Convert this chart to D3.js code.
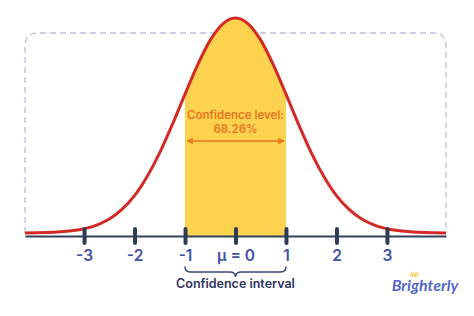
<!DOCTYPE html>
<html>
<head>
<meta charset="utf-8">
<script src="https://cdn.jsdelivr.net/npm/d3@7"></script>
<style>
  body { margin: 0; background: #fff; }
  svg { display: block; font-family: Inter, "Open Sans", sans-serif; }
</style>
</head>
<body>
<div id="chart"></div>
<script>
// curve: x in sigma units, height relative to the peak
const curveX = [-4.17, -3.75, -3.25, -2.75, -2.5, -2.25, -2, -1.75, -1.5, -1.25, -1, -0.75, -0.5, -0.25, 0,
  0.25, 0.5, 0.75, 1, 1.25, 1.5, 1.75, 2, 2.25, 2.5, 2.75, 3.25, 3.75, 4.17];
const curveY = [0.0005, 0.002, 0.01, 0.037, 0.065, 0.11, 0.174, 0.263, 0.374, 0.505, 0.646, 0.782, 0.897, 0.973, 1,
  0.973, 0.897, 0.782, 0.646, 0.505, 0.374, 0.263, 0.174, 0.11, 0.065, 0.037, 0.01, 0.002, 0.0005];
const tickValues = [-3, -2, -1, 0, 1, 2, 3];
const tickLabels = ['-3', '-2', '-1', 'μ = 0', '1', '2', '3'];
const interval = [-1, 1];
const levelLabel = ['Confidence level:', '68.26%'];
const intervalLabel = 'Confidence interval';

const width = 474;
const height = 316;
const axisY = 236;

const points = curveX.map((x, i) => ({ x, y: curveY[i] }));

const xScale = d3.scaleLinear().domain([-4.17, 4.17]).range([25, 446]);
const yScale = d3.scaleLinear().domain([0, 1]).range([233, 18]);

const svg = d3.select('#chart')
  .append('svg')
  .attr('width', width)
  .attr('height', height);

const defs = svg.append('defs');

defs.append('clipPath')
  .attr('id', 'band')
  .append('rect')
  .attr('x', xScale(interval[0]))
  .attr('width', xScale(interval[1]) - xScale(interval[0]))
  .attr('y', 0)
  .attr('height', axisY);

['start', 'end'].forEach(k => {
  defs.append('marker')
    .attr('id', 'arrow-' + k)
    .attr('viewBox', '0 0 10 10')
    .attr('refX', 9)
    .attr('refY', 5)
    .attr('markerWidth', 7)
    .attr('markerHeight', 7)
    .attr('orient', 'auto-start-reverse')
    .attr('markerUnits', 'userSpaceOnUse')
    .append('path')
    .attr('d', 'M1,1 L9,5 L1,9 Z')
    .attr('fill', '#e8761e')
    .attr('stroke', '#e8761e')
    .attr('stroke-width', 1)
    .attr('stroke-linejoin', 'round');
});

// dashed frame
svg.append('path')
  .attr('d', () => {
    const x0 = 25, x1 = 446, y0 = 33, y1 = axisY - 3, r = 13;
    return `M${x0},${y1} L${x0},${y0 + r} Q${x0},${y0} ${x0 + r},${y0} L${x1 - r},${y0} Q${x1},${y0} ${x1},${y0 + r} L${x1},${y1}`;
  })
  .attr('fill', 'none')
  .attr('stroke', '#b9c0dd')
  .attr('stroke-width', 1.3)
  .attr('stroke-dasharray', '6,4');

const area = d3.area()
  .x(d => xScale(d.x))
  .y0(axisY)
  .y1(d => yScale(d.y))
  .curve(d3.curveMonotoneX);

const line = d3.line()
  .x(d => xScale(d.x))
  .y(d => yScale(d.y))
  .curve(d3.curveMonotoneX);

svg.append('path')
  .datum(points)
  .attr('clip-path', 'url(#band)')
  .attr('fill', '#fdd24f')
  .attr('d', area);

svg.append('path')
  .datum(points)
  .attr('fill', 'none')
  .attr('stroke', '#d42a26')
  .attr('stroke-width', 3)
  .attr('d', line);

// axis
const axis = svg.append('g')
  .attr('transform', `translate(0, ${axisY})`)
  .call(d3.axisBottom(xScale)
    .tickValues(tickValues)
    .tickFormat((d, i) => tickLabels[i])
    .tickSizeOuter(0));

axis.select('.domain')
  .attr('stroke', '#34405a')
  .attr('stroke-width', 2);

axis.selectAll('.tick line')
  .attr('y1', -7)
  .attr('y2', 7)
  .attr('stroke', '#2f3b56')
  .attr('stroke-width', 4)
  .attr('stroke-linecap', 'round');

axis.selectAll('.tick text')
  .attr('y', 25)
  .attr('dy', 0)
  .attr('fill', '#4252a4')
  .attr('font-size', 15.5)
  .attr('font-weight', 600)
  .attr('font-family', 'Inter, sans-serif');

// confidence level label and arrow
const mid = xScale(0);
svg.selectAll('.level')
  .data(levelLabel)
  .enter()
  .append('text')
  .attr('x', mid)
  .attr('y', (d, i) => 119 + i * 13.5)
  .attr('text-anchor', 'middle')
  .attr('fill', '#e8761e')
  .attr('font-size', 11.5)
  .attr('font-weight', 600)
  .text(d => d);

svg.append('line')
  .attr('x1', xScale(interval[0]) + 2)
  .attr('x2', xScale(interval[1]) - 2)
  .attr('y1', 141)
  .attr('y2', 141)
  .attr('stroke', '#e8761e')
  .attr('stroke-width', 1.6)
  .attr('marker-start', 'url(#arrow-start)')
  .attr('marker-end', 'url(#arrow-end)');

// brace under the interval
const bx0 = xScale(interval[0]), bx1 = xScale(interval[1]);
const by0 = 267, by1 = 277, bh = (by0 + by1) / 2;
svg.append('path')
  .attr('d', `M${bx0},${by0} Q${bx0},${bh} ${bx0 + 6},${bh} L${mid - 6},${bh} Q${mid},${bh} ${mid},${by1}` +
    ` Q${mid},${bh} ${mid + 6},${bh} L${bx1 - 6},${bh} Q${bx1},${bh} ${bx1},${by0}`)
  .attr('fill', 'none')
  .attr('stroke', '#3a4785')
  .attr('stroke-width', 1.5)
  .attr('stroke-linecap', 'round');

svg.append('text')
  .attr('x', mid)
  .attr('y', 288)
  .attr('text-anchor', 'middle')
  .attr('fill', '#2c3462')
  .attr('font-size', 12.5)
  .attr('font-weight', 600)
  .text(intervalLabel);

// logo
const logo = svg.append('g').attr('transform', 'translate(425, 291)');
logo.append('text')
  .attr('text-anchor', 'middle')
  .attr('fill', '#5566c8')
  .attr('font-size', 16)
  .attr('font-weight', 700)
  .attr('font-style', 'italic')
  .attr('font-family', 'Lato, sans-serif')
  .text('Brighterly');
logo.selectAll('.ray')
  .data([-50, -25, 0, 25, 50])
  .enter()
  .append('line')
  .attr('transform', d => `translate(-11, -13) rotate(${d})`)
  .attr('x1', 0).attr('x2', 0)
  .attr('y1', -2).attr('y2', -6)
  .attr('stroke', '#f6c342')
  .attr('stroke-width', 1)
  .attr('stroke-linecap', 'round');
</script>
</body>
</html>
